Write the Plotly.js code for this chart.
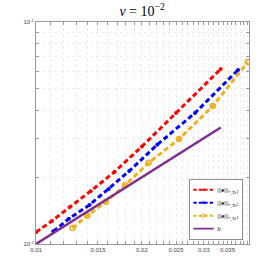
<!DOCTYPE html>
<html><head><meta charset="utf-8">
<script src="https://cdn.plot.ly/plotly-3.0.1.min.js"></script>
<style>html,body{margin:0;padding:0;background:#fff}#c{width:275px;height:275px}</style>
</head><body><div id="c"></div>
<script>
// Data
const hRed = [0.01, 0.0111, 0.0125, 0.0143, 0.0167, 0.020, 0.025, 0.0335];
const eRed = [0.0113, 0.0127, 0.0147, 0.0173, 0.0211, 0.0275, 0.0389, 0.0614];
const hBlue = [0.0112, 0.0124, 0.0142, 0.0161, 0.0184, 0.0221, 0.0283, 0.0375];
const eBlue = [0.0114, 0.0130, 0.0150, 0.0177, 0.0213, 0.0280, 0.0389, 0.0608];
const hYel = [0.0127, 0.0140, 0.0158, 0.0179, 0.0209, 0.0255, 0.0318, 0.040];
const eYel = [0.0118, 0.0134, 0.0155, 0.0184, 0.0232, 0.0297, 0.0418, 0.066];
const hRef = [0.01, 0.0335];
const eRef = [0.01, 0.0335];
const names = [
  "|||<b>e</b>|||<sub>*,<i>T</i>ₕ²</sub>",
  "|||<b>e</b>|||<sub>*,<i>T</i>ₕ³</sub>",
  "|||<b>e</b>|||<sub>*,<i>T</i>ₕ¹</sub>",
  "<i>h</i>"
];
const xTickVals = [0.010,0.011,0.012,0.013,0.014,0.015,0.016,0.017,0.018,0.019,0.020,0.021,0.022,0.023,0.024,0.025,0.026,0.027,0.028,0.029,0.030,0.031,0.032,0.033,0.034,0.035,0.036,0.037,0.038,0.039,0.040];
const xTickText = ["0.01","","","","","0.015","","","","","0.02","","","","","0.025","","","","","0.03","","","","","0.035","","","","",""];
const yTickVals = [0.01,0.02,0.03,0.04,0.05,0.06,0.07,0.08,0.09,0.1];
const yTickText = ["10<sup>-2</sup>","","","","","","","","","10<sup>-1</sup>"];

const dashPat = '5px,3px';
const traces = [
  {x:hRed, y:eRed, name:names[0], mode:'lines+markers',
   line:{color:'#ff0000', width:3, dash:dashPat}, marker:{color:'#ff0000', size:4, symbol:'circle'}},
  {x:hBlue, y:eBlue, name:names[1], mode:'lines+markers',
   line:{color:'#0000ff', width:3, dash:dashPat}, marker:{color:'#0000ff', size:4, symbol:'circle'}},
  {x:hYel, y:eYel, name:names[2], mode:'lines+markers',
   line:{color:'#EDB120', width:3, dash:dashPat}, marker:{color:'#EDB120', size:5, symbol:'circle-open', line:{width:1.5, color:'#EDB120'}}},
  {x:hRef, y:eRef, name:names[3], mode:'lines',
   line:{color:'#7E2F8E', width:2.5}}
];
const axCommon = {type:'log', showline:true, linecolor:'#999', linewidth:1, mirror:'ticks',
  ticks:'inside', ticklen:3, tickcolor:'#999', showgrid:true, gridcolor:'#ececec', griddash:'dot', gridwidth:1,
  zeroline:false, tickfont:{family:'Liberation Sans, Arial', size:6, color:'#444'}};
const layout = {
  width:275, height:275, margin:{l:36, r:26, t:22, b:31},
  paper_bgcolor:'#fff', plot_bgcolor:'#fff', showlegend:true,
  title:{text:'<i>ν</i> = 10<sup>−2</sup>', x:0.517, xanchor:'center', y:0.96, yanchor:'middle',
    font:{family:'Liberation Serif, DejaVu Serif, serif', size:14, color:'#000'}},
  xaxis:Object.assign({}, axCommon, {range:[-2, Math.log10(0.0403)], tickmode:'array', tickvals:xTickVals, ticktext:xTickText}),
  yaxis:Object.assign({}, axCommon, {range:[-2, -1], tickmode:'array', tickvals:yTickVals, ticktext:yTickText}),
  legend:{x:0.01, y:0.99, xanchor:'left', yanchor:'top', bgcolor:'#fff', bordercolor:'#888', borderwidth:1.4,
    font:{family:'Liberation Serif, DejaVu Serif, serif', size:10, color:'#000'}, tracegroupgap:0, itemwidth:30}
};
const LEGEND_SCALE = 0.68;
Plotly.newPlot('c', traces, layout, {staticPlot:true, displayModeBar:false}).then(function(gd){
  const lg = gd.querySelector('.legend');
  if (lg) {
    lg.setAttribute('transform', 'translate(189,179) scale(' + LEGEND_SCALE + ')');
  }
});
</script></body></html>
